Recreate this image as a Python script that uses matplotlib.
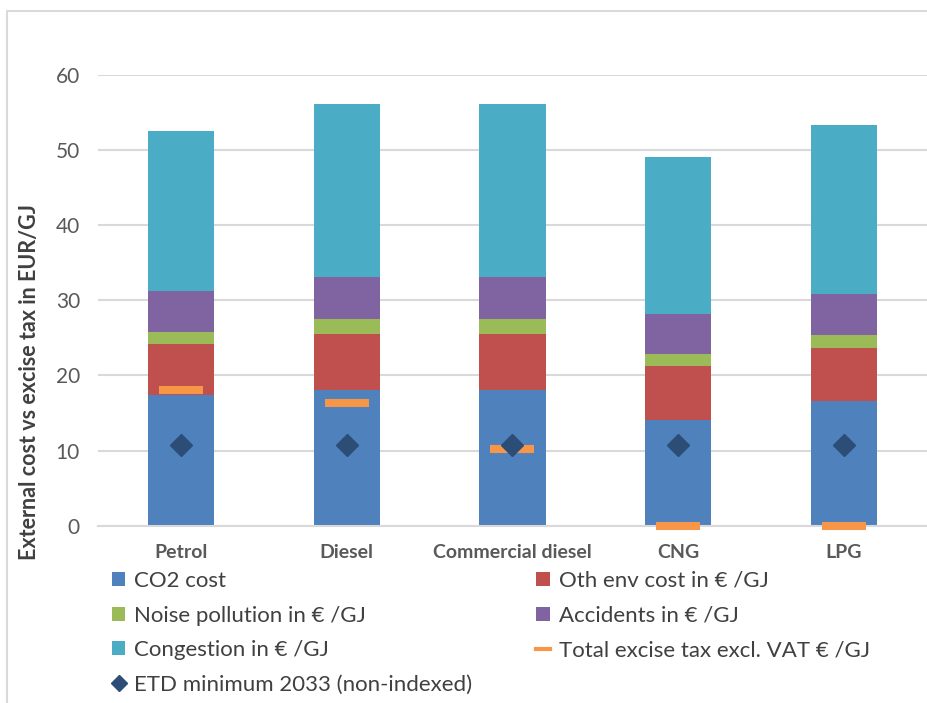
import matplotlib
matplotlib.use('Agg')
import matplotlib.pyplot as plt
import numpy as np
from matplotlib.patches import Patch
from matplotlib.lines import Line2D

plt.rcParams['font.family'] = ['Lato', 'DejaVu Sans']

# Data (EUR/GJ)
fuels = ['Petrol', 'Diesel', 'Commercial diesel', 'CNG', 'LPG']
co2_cost = [17.4, 18.1, 18.1, 14.1, 16.6]
oth_env = [6.8, 7.4, 7.4, 7.2, 7.0]
noise = [1.6, 2.0, 2.0, 1.6, 1.8]
accidents = [5.45, 5.6, 5.6, 5.3, 5.5]
congestion = [21.35, 23.0, 23.0, 20.9, 22.4]
excise_tax = [18.0, 16.4, 10.2, 0.0, 0.0]
etd_min = [10.7, 10.7, 10.7, 10.7, 10.7]

series = [
    ('CO2 cost', co2_cost, '#4F81BD'),
    ('Oth env cost in € /GJ', oth_env, '#C0504D'),
    ('Noise pollution in € /GJ', noise, '#9BBB59'),
    ('Accidents in € /GJ', accidents, '#8064A2'),
    ('Congestion in € /GJ', congestion, '#4BACC6'),
]
excise_label = 'Total excise tax excl. VAT € /GJ'
etd_label = 'ETD minimum 2033 (non-indexed)'
excise_color = '#F79646'
etd_color = '#2C4D75'
text_color = '#404040'
grid_color = '#D9D9D9'

fig = plt.figure(figsize=(9.28, 7.03), dpi=100)
ax = fig.add_axes([0.1056, 0.2522, 0.8933, 0.6411])

x = np.arange(len(fuels))
bottom = np.zeros(len(fuels))
for label, vals, color in series:
    ax.bar(x, vals, width=0.4, bottom=bottom, color=color, zorder=2)
    bottom += np.array(vals)

ax.plot(x, excise_tax, linestyle='none', marker='_', ms=31, mew=5.8,
        color=excise_color, zorder=3, clip_on=False)
ax.plot(x, etd_min, linestyle='none', marker='D', ms=11.5,
        color=etd_color, zorder=4)

ax.set_xlim(-0.5, len(fuels) - 0.5)
ax.set_ylim(0, 60)
ax.set_yticks(range(0, 61, 10))
ax.yaxis.grid(True, color=grid_color, linewidth=1.5, zorder=0)
ax.set_axisbelow(True)
for side in ['top', 'right', 'left']:
    ax.spines[side].set_visible(False)
ax.spines['bottom'].set_color(grid_color)
ax.spines['bottom'].set_linewidth(1.5)
ax.tick_params(axis='y', length=0, pad=13, labelsize=15, labelcolor='#595959')
ax.tick_params(axis='x', length=0, pad=13)
ax.set_xticks(x)
ax.set_xticklabels(fuels, fontsize=14, fontweight='bold', color='#595959')

fig.text(0.032, 0.457, 'External cost vs excise tax in EUR/GJ', rotation=90,
         ha='center', va='center', fontsize=15.5, fontweight='bold', color=text_color)

# Legend split into two columns, filled row by row as in the reference
h = {label: Patch(facecolor=color) for label, vals, color in series}
h[excise_label] = Line2D([0], [0], color=excise_color, lw=3)
h[etd_label] = Line2D([0], [0], linestyle='none', marker='D', ms=8, color=etd_color)
left_items = ['CO2 cost', 'Noise pollution in € /GJ', 'Congestion in € /GJ', etd_label]
right_items = ['Oth env cost in € /GJ', 'Accidents in € /GJ', excise_label]

for items, xa in [(left_items, 0.1208), (right_items, 0.578)]:
    leg = fig.legend([h[k] for k in items], items, loc='upper left',
                     bbox_to_anchor=(xa, 0.188), frameon=False, fontsize=16,
                     handlelength=0.6, handleheight=0.6, handletextpad=0.4,
                     labelspacing=0.66, borderpad=0, borderaxespad=0)
    for t in leg.get_texts():
        t.set_color(text_color)

# Outer chart frame
fig.add_artist(Line2D([0.0075, 0.0075, 1.0], [0.0, 0.9844, 0.9844],
                      transform=fig.transFigure, color=grid_color, lw=1.5))

fig.savefig('out.png', dpi=100)
